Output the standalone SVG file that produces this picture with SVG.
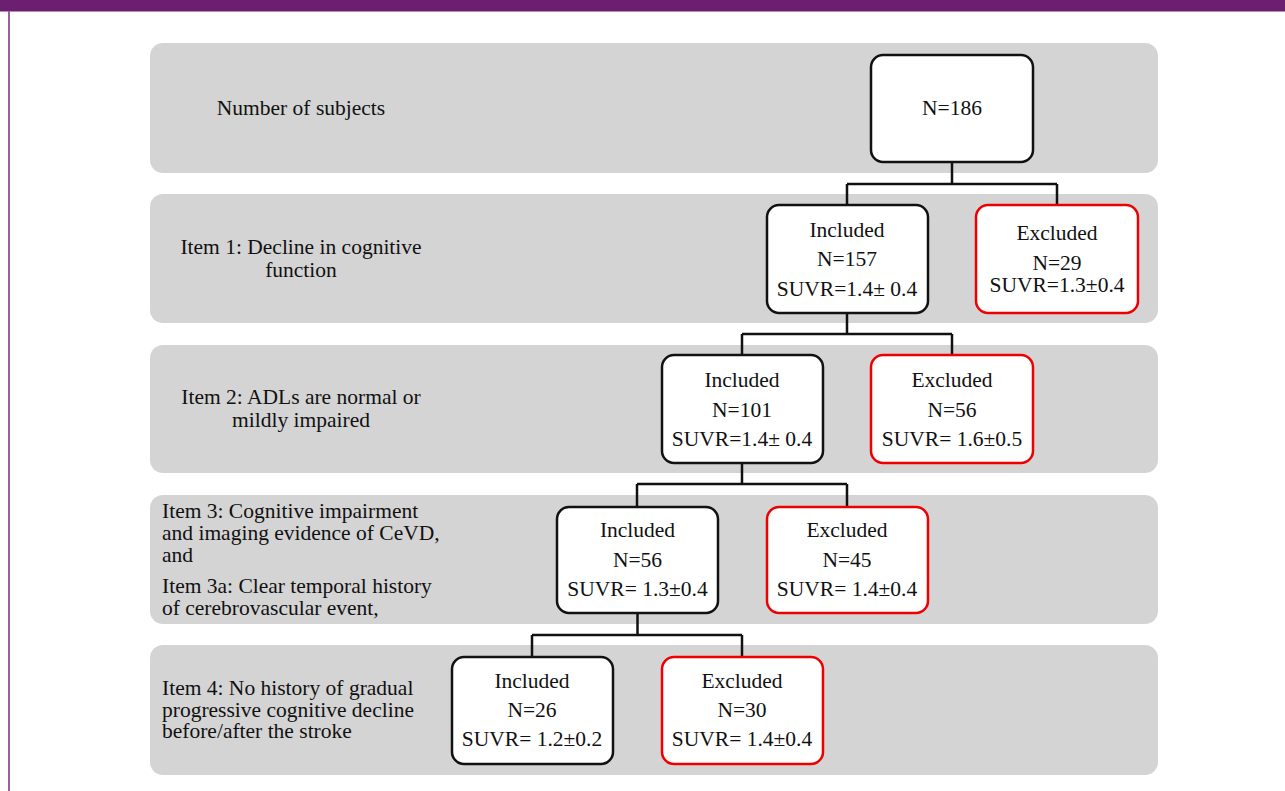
<svg xmlns="http://www.w3.org/2000/svg" width="1285" height="791" viewBox="0 0 1285 791">
<style>
text{font-family:"Liberation Serif","Times New Roman",serif;font-size:21.5px;fill:#111}
.c{text-anchor:middle}
.band{fill:#d4d4d4}
.inc{fill:#fff;stroke:#111;stroke-width:2.5}
.exc{fill:#fff;stroke:#ee0000;stroke-width:2.5}
.conn{fill:none;stroke:#111;stroke-width:2.5}
</style>
<rect x="0" y="0" width="1285" height="791" fill="#fff"/>
<rect x="0" y="0" width="1285" height="11.5" fill="#6b1f6e"/>
<rect x="8" y="11" width="2" height="780" fill="#9c5ea0"/>
<g id="bands">
<rect class="band" x="150" y="43" width="1008" height="130" rx="13"/>
<rect class="band" x="150" y="194" width="1008" height="129" rx="13"/>
<rect class="band" x="150" y="345" width="1008" height="128" rx="13"/>
<rect class="band" x="150" y="495" width="1008" height="129" rx="13"/>
<rect class="band" x="150" y="645" width="1008" height="130" rx="13"/>
</g>
<g id="labels">
<text x="301" y="115" class="c">Number of subjects</text>
<text x="301" y="254" class="c">Item 1: Decline in cognitive</text>
<text x="301" y="277" class="c">function</text>
<text x="301" y="404" class="c">Item 2: ADLs are normal or</text>
<text x="301" y="427" class="c">mildly impaired</text>
<text x="162" y="518">Item 3: Cognitive impairment</text>
<text x="162" y="540">and imaging evidence of CeVD,</text>
<text x="162" y="562">and</text>
<text x="162" y="593">Item 3a: Clear temporal history</text>
<text x="162" y="615">of cerebrovascular event,</text>
<text x="162" y="695">Item 4: No history of gradual</text>
<text x="162" y="717">progressive cognitive decline</text>
<text x="162" y="738">before/after the stroke</text>
</g>
<g id="connectors">
<path class="conn" d="M952 162V184M847 184H1057M847 184V205M1057 184V205"/>
<path class="conn" d="M847 313V334M742 334H952M742 334V355M952 334V355"/>
<path class="conn" d="M742 463V484M637 484H847M637 484V507M847 484V507"/>
<path class="conn" d="M637.5 613V635M532 635H742M532 635V657M742 635V657"/>
</g>
<g id="n186">
<rect class="inc" x="871" y="55" width="162" height="107" rx="12"/>
<text x="952" y="115" class="c">N=186</text>
</g>
<g id="inc1">
<rect class="inc" x="767" y="205" width="161" height="108" rx="12"/>
<text x="847" y="237" class="c">Included</text>
<text x="847" y="266" class="c">N=157</text>
<text x="847" y="296" class="c">SUVR=1.4± 0.4</text>
</g>
<g id="exc1">
<rect class="exc" x="976" y="205" width="162" height="108" rx="12"/>
<text x="1057" y="240" class="c">Excluded</text>
<text x="1057" y="270" class="c">N=29</text>
<text x="1057" y="292" class="c">SUVR=1.3±0.4</text>
</g>
<g id="inc2">
<rect class="inc" x="662" y="355" width="161" height="108" rx="12"/>
<text x="742" y="387" class="c">Included</text>
<text x="742" y="417" class="c">N=101</text>
<text x="742" y="446" class="c">SUVR=1.4± 0.4</text>
</g>
<g id="exc2">
<rect class="exc" x="871" y="355" width="162" height="108" rx="12"/>
<text x="952" y="387" class="c">Excluded</text>
<text x="952" y="417" class="c">N=56</text>
<text x="952" y="446" class="c">SUVR= 1.6±0.5</text>
</g>
<g id="inc3">
<rect class="inc" x="557" y="507" width="161" height="106" rx="12"/>
<text x="637.5" y="537" class="c">Included</text>
<text x="637.5" y="567" class="c">N=56</text>
<text x="637.5" y="596" class="c">SUVR= 1.3±0.4</text>
</g>
<g id="exc3">
<rect class="exc" x="767" y="507" width="161" height="106" rx="12"/>
<text x="847" y="537" class="c">Excluded</text>
<text x="847" y="567" class="c">N=45</text>
<text x="847" y="596" class="c">SUVR= 1.4±0.4</text>
</g>
<g id="inc4">
<rect class="inc" x="452" y="657" width="161" height="107" rx="12"/>
<text x="532" y="688" class="c">Included</text>
<text x="532" y="717" class="c">N=26</text>
<text x="532" y="746" class="c">SUVR= 1.2±0.2</text>
</g>
<g id="exc4">
<rect class="exc" x="662" y="657" width="161" height="107" rx="12"/>
<text x="742" y="688" class="c">Excluded</text>
<text x="742" y="717" class="c">N=30</text>
<text x="742" y="746" class="c">SUVR= 1.4±0.4</text>
</g>
</svg>
